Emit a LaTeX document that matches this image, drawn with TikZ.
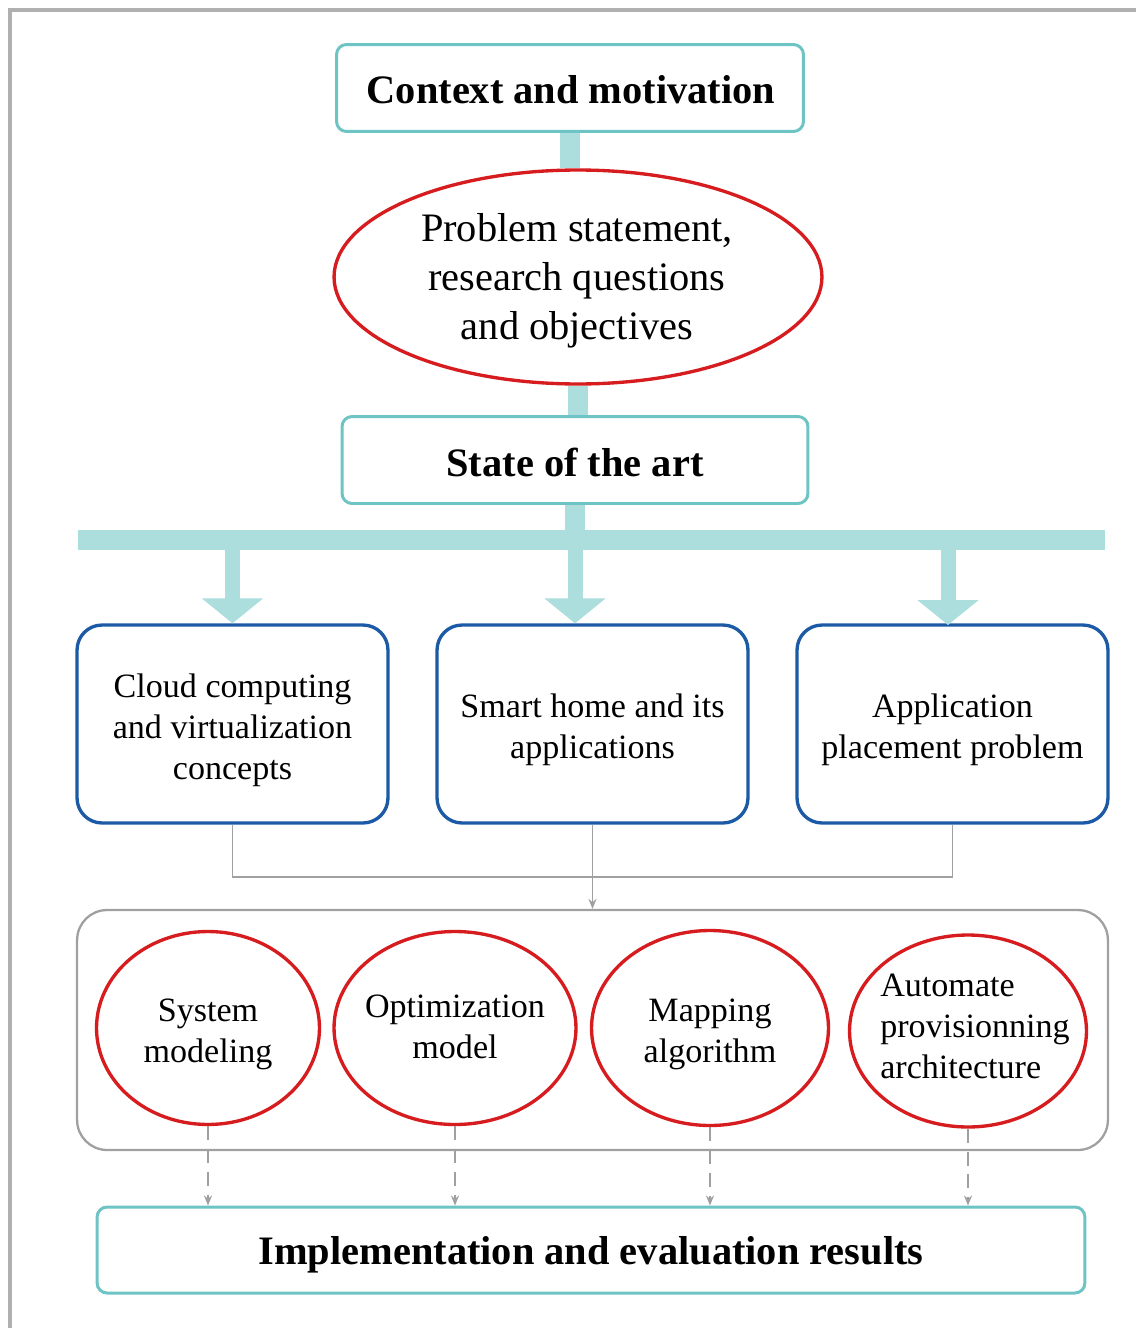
\documentclass[tikz,border=0pt]{standalone}
\usepackage{fontspec}
\setmainfont{Liberation Serif}
\usetikzlibrary{arrows.meta,shapes.geometric}
\definecolor{tealline}{RGB}{110,196,196}
\definecolor{tealbar}{RGB}{172,222,222}
\definecolor{redline}{RGB}{214,28,30}
\definecolor{blueline}{RGB}{28,90,166}
\definecolor{grayline}{RGB}{160,160,160}
\definecolor{framegray}{RGB}{176,176,176}
\tikzset{
  headbox/.style={draw=tealline, line width=1.7pt, rounded corners=0.2cm, inner sep=0pt},
  headtext/.style={font=\fontsize{23}{27.9}\selectfont\bfseries, align=center, inner sep=0pt},
  bigoval/.style={ellipse, draw=redline, line width=1.9pt, inner sep=0pt},
  bigtext/.style={font=\fontsize{23}{27.9}\selectfont, align=center, inner sep=0pt},
  topicbox/.style={draw=blueline, line width=1.9pt, rounded corners=0.5cm,
    minimum width=6.22cm, minimum height=3.96cm, inner sep=0pt},
  topictext/.style={font=\fontsize{19.4}{23.3}\selectfont, align=center, inner sep=0pt},
  stepoval/.style={ellipse, draw=redline, line width=1.9pt, inner sep=0pt},
  groupbox/.style={draw=grayline, line width=1.3pt, rounded corners=0.6cm, inner sep=0pt},
  thickbar/.style={draw=tealbar, line width=0.4cm},
  thickarrow/.style={draw=tealbar, line width=0.3cm,
    -{Triangle[width=1.2cm,length=0.5cm,fill=tealbar]}},
  linkline/.style={draw=grayline, line width=1.1pt},
  linkarrow/.style={linkline, -{Stealth[width=0.16cm,length=0.2cm]}},
  dasharrow/.style={linkline, dashed, dash pattern=on 8pt off 5pt,
    -{Stealth[width=0.16cm,length=0.2cm]}},
}
\begin{document}
\begin{tikzpicture}[x=0.02cm,y=-0.02cm]
\useasboundingbox (0,0) rectangle (1136,1328);
\fill[white] (0,0) rectangle (1136,1328);
% page frame: top and left edges
\draw[framegray, line width=0.08cm] (10,1328) -- (10,10) -- (1136,10);

% upper chain
\node[headbox, minimum width=9.34cm, minimum height=1.74cm] (ctx) at (570,88) {};
\node[headtext] (ctxT) at (571,90) {Context and motivation};
\node[bigoval, minimum width=9.76cm, minimum height=4.28cm] (prob) at (578,277) {};
\node[bigtext] (probT) at (577,281) {Problem statement,\\research questions\\and objectives};
\node[headbox, minimum width=9.32cm, minimum height=1.74cm] (sota) at (575,460) {};
\node[headtext] (sotaT) at (575,462) {State of the art};

\coordinate (barL) at (78,540);
\coordinate (barR) at (1105,540);
\coordinate (barM) at (575,540);

% state-of-the-art topics
\node[topicbox] (cloud) at (232.5,724) {};
\node[topictext] (cloudT) at (232.5,730) {Cloud computing\\and virtualization\\concepts};
\node[topicbox] (smart) at (592.5,724) {};
\node[topictext] (smartT) at (592.5,730) {Smart home and its\\applications};
\node[topicbox] (place) at (952.5,724) {};
\node[topictext] (placeT) at (952.5,730) {Application\\placement problem};

% contribution group
\node[groupbox, minimum width=20.62cm, minimum height=4.8cm] (group) at (592.5,1030) {};
\node[stepoval, minimum width=4.46cm, minimum height=3.86cm] (sys) at (208,1028) {};
\node[topictext] (sysT) at (208,1034) {System\\modeling};
\node[stepoval, minimum width=4.84cm, minimum height=3.86cm] (opt) at (455,1028) {};
\node[topictext] (optT) at (455,1027) {Optimization\\model};
\node[stepoval, minimum width=4.74cm, minimum height=3.9cm] (map) at (710,1028) {};
\node[topictext] (mapT) at (710,1034) {Mapping\\algorithm};
\node[stepoval, minimum width=4.74cm, minimum height=3.84cm] (arch) at (968,1031) {};
\node[topictext, align=left] (archT) at (975,1026) {Automate\\provisionning\\architecture};

\node[headbox, minimum width=19.76cm, minimum height=1.72cm] (impl) at (591,1250) {};
\node[headtext] (implT) at (591,1255) {Implementation and evaluation results};

% thick teal connectors
\draw[thickbar] (ctx.south) -- (ctx.south |- prob.north);
\draw[thickbar] (prob.south) -- (prob.south |- sota.north);
\draw[thickbar] (sota.south) -- (barM);
\draw[thickbar] (barL) -- (barR);
\draw[thickarrow] (barL -| cloud.north) -- (cloud.north);
\draw[thickarrow] (barL -| sota.south) -- (sota.south |- smart.north);
\draw[thickarrow] (948,540) -- (948,625);

% gray merge into the group
\coordinate (merge) at (0,877);
\draw[linkline] (cloud.south) -- (cloud.south |- merge) -| (place.south);
\draw[linkarrow] (smart.south) -- (group.north -| smart.south);

% dashed outputs
\draw[dasharrow] (sys.south) -- (sys.south |- impl.north);
\draw[dasharrow] (opt.south) -- (opt.south |- impl.north);
\draw[dasharrow] (map.south) -- (map.south |- impl.north);
\draw[dasharrow] (arch.south) -- (arch.south |- impl.north);
\end{tikzpicture}
\end{document}
